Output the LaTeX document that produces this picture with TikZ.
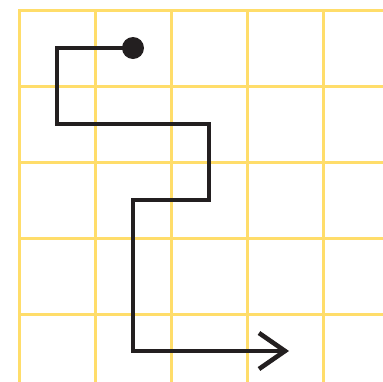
\documentclass[tikz,border=0pt]{standalone}
\usepackage{xcolor}
\usetikzlibrary{calc}
\definecolor{gridyel}{HTML}{FFDD6A}
\definecolor{pathblk}{HTML}{231F20}
\tikzset{
  gridline/.style = {draw=gridyel, line width=3bp},
  walkline/.style = {draw=pathblk, line width=4.6bp, line join=miter},
  startdot/.style = {circle, fill=pathblk, inner sep=0pt, minimum size=22bp},
}

\begin{document}
\begin{tikzpicture}[x=1bp, y=-1bp]
  \useasboundingbox (0,0) rectangle (383,382);

  % ---------- grid -----------------------------------------------------
  \foreach \gx in {19.5,95,171,247,323}
    {\draw[gridline] (\gx,10) -- (\gx,382);}
  \foreach \gy in {10.5,86,162,238,314}
    {\draw[gridline] (18,\gy) -- (383,\gy);}

  % ---------- turning points -------------------------------------------
  \coordinate (wa) at (57,48);   \coordinate (wb) at (57,124);
  \coordinate (wc) at (209,124); \coordinate (wd) at (209,200);
  \coordinate (we) at (133,200); \coordinate (wf) at (133,351);
  \coordinate (tip) at (285,351);
  \coordinate (barbu) at (259,333); \coordinate (barbd) at (259,369);

  % ---------- the walk -------------------------------------------------
  \node[startdot] (start) at (133,48) {};
  \draw[walkline] (start.center) -- (wa) -- (wb) -- (wc) -- (wd) -- (we)
    -- (wf) -- (tip);
  \draw[walkline] (barbu) -- (tip) -- (barbd);

\end{tikzpicture}
\end{document}
